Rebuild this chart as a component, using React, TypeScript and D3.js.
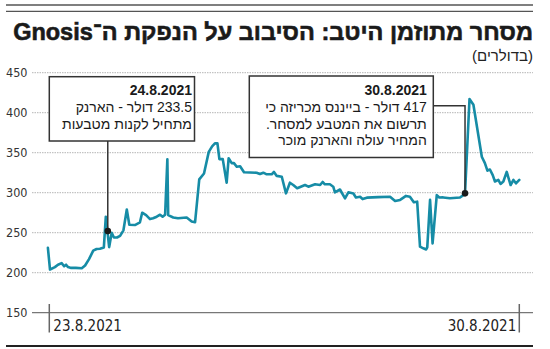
import React from "react";
import * as d3 from "d3";

// hours since 23.8.2021 00:00
const hours = [
  -0.5, 0.25, 2.0, 3.1, 4.4, 5.3, 6.0, 6.7, 7.8, 9.5, 11.6, 12.8, 14.2, 15.7, 16.9, 18.1, 19.5, 20.2, 21.4,
  22.3, 23.1, 24.2, 25.3, 26.5, 27.7, 28.6, 30.6, 32.4, 33.2, 34.6, 36.0, 37.1, 38.4, 39.6, 40.5, 41.4,
  42.2, 42.5, 44.3, 46.0, 49.1, 50.9, 52.1, 53.6, 55.3, 57.0, 58.2, 59.2, 60.1, 60.8, 62.0, 63.4, 64.1,
  65.2, 66.0, 67.0, 68.2, 69.6, 74.1, 75.3, 76.5, 77.7, 79.5, 80.3, 81.3, 83.1, 84.6, 86.0, 87.2, 88.6,
  91.4, 92.6, 95.0, 96.8, 97.7, 98.5, 100.3, 101.5, 102.1, 103.9, 105.7, 106.9, 108.7, 109.6, 111.1,
  112.0, 113.5, 117.5, 121.8, 123.6, 125.4, 127.5, 128.9, 130.3, 131.5, 132.5, 133.7, 134.7, 135.1,
  136.1, 137.0, 138.5, 139.4, 140.8, 143.2, 146.8, 148.0, 148.6, 150.2, 151.6, 154.6, 155.7, 156.6,
  157.5, 158.5, 159.3, 160.5, 161.3, 162.3, 163.5, 164.9, 165.9, 166.8, 168.0,
];
const prices = [
  231, 204, 207, 210, 212, 208, 210, 207, 206, 206, 205.5, 209, 217, 227.5, 229.6, 230, 231.6, 270, 232,
  250, 244, 244, 246, 253, 279, 260, 259.6, 263, 275, 272, 267, 268, 270, 272.5, 270, 272.5,
  341.7, 272, 269, 268, 269, 264, 263, 316.7, 324, 351, 358, 361.7, 361.7, 342, 342, 312.5, 343,
  337, 337, 332.5, 333, 325.5, 325, 323.4, 325, 323, 323, 326, 321, 320, 299.2, 312.5, 309.6, 305.5,
  309.6, 307.5, 310.5, 309.6, 313.4, 310.5, 310.5, 307.5, 300.5, 304, 293, 300.5, 299, 294, 295,
  292, 293.8, 294.5, 295, 289.6, 291, 296, 295, 288, 288.8, 232.5, 230.5, 229, 231.6,
  291, 236.7, 297, 294, 294.1, 293, 294, 297, 299.2, 417, 410, 345, 337, 327.5,
  329, 322, 314, 316, 311, 314, 326, 309.6, 316, 311.7, 316,
];

const yTicks = [150, 200, 250, 300, 350, 400, 450];
const xTickHours = [0, 168];
const xTickLabels = ["23.8.2021", "30.8.2021"];

const titleText = "מסחר מתוזמן היטב: הסיבוב על הנפקת ה־Gnosis";
const subtitleText = "(בדולרים)";

const note1Hour = 20.9;
const note1Value = 252;
const note1Lines = ["24.8.2021", "233.5 דולר - הארנק", "מתחיל לקנות מטבעות"];
const note2Hour = 148.6;
const note2Value = 299.2;
const note2Lines = ["30.8.2021", "417 דולר - בייננס מכריזה כי", "תרשום את המטבע למסחר.", "המחיר עולה והארנק מוכר"];

const W = 550;
const H = 349;
const LINE = "#168ca6";
const narrow = "'Liberation Sans Narrow', 'DejaVu Sans Condensed', 'Liberation Sans', sans-serif";
const sans = "'Liberation Sans', 'DejaVu Sans', Arial, sans-serif";

export default function App() {
  const x = d3.scaleLinear().domain([0, 168]).range([49.3, 519.3]);
  const y = d3.scaleLinear().domain([150, 450]).range([312.7, 72.7]);
  const pts = hours.map((h, i) => [h, prices[i]] as [number, number]);
  const line = d3
    .line<[number, number]>()
    .x((d) => x(d[0]))
    .y((d) => y(d[1]))(pts) as string;

  const gridL = 32;
  const gridR = 533;

  const n1x = x(note1Hour);
  const n1y = y(note1Value);
  const n2x = x(note2Hour);
  const n2y = y(note2Value);

  const box1 = { l: 49.3, r: 194.5, t: 76.7, b: 141 };
  const box2 = { l: 249.3, r: 433.3, t: 76, b: 157.5 };

  return (
    <svg
      width={W}
      height={H}
      style={{ position: "absolute", left: 0, top: 0, background: "#fff" }}
    >
      <rect x={0} y={0} width={W} height={H} fill="#fff" />
      {/* top rules */}
      <line x1={6} x2={533} y1={5} y2={5} stroke="#555" strokeWidth={1.3} />
      <line x1={6} x2={533} y1={11.3} y2={11.3} stroke="#555" strokeWidth={1.3} />

      {/* title */}
      <text
        x={533}
        y={40}
        direction="rtl"
        textAnchor="start"
        fontFamily={sans}
        fontWeight={900}
        fontSize={23.5}
        fill="#1a1a1a"
        stroke="#1a1a1a"
        strokeWidth={0.6}
      >
        {titleText}
      </text>
      <text
        x={533}
        y={61}
        direction="rtl"
        textAnchor="start"
        fontFamily={sans}
        fontSize={15}
        fill="#222"
      >
        {subtitleText}
      </text>

      {/* grid */}
      {yTicks
        .filter((t) => t !== 150)
        .map((t) => (
          <line
            key={t}
            x1={gridL}
            x2={gridR}
            y1={y(t)}
            y2={y(t)}
            stroke="#b5b5b5"
            strokeWidth={1}
            strokeDasharray="1.5 1"
          />
        ))}
      {yTicks.map((t) => (
        <text
          key={"l" + t}
          x={6}
          y={y(t)}
          dy="0.35em"
          fontFamily={narrow}
          fontSize={12.5}
          fill="#333"
        >
          {t}
        </text>
      ))}

      {/* x axis */}
      <line x1={gridL} x2={gridR} y1={y(150)} y2={y(150)} stroke="#777" strokeWidth={1.3} />
      {xTickHours.map((h, i) => (
        <g key={"x" + i}>
          <line x1={x(h)} x2={x(h)} y1={304} y2={332.5} stroke="#666" strokeWidth={1.5} />
          <text
            x={i === 0 ? x(h) + 4 : x(h) - 3}
            y={331}
            textAnchor={i === 0 ? "start" : "end"}
            fontFamily={narrow}
            fontSize={15}
            fill="#222"
          >
            {xTickLabels[i]}
          </text>
        </g>
      ))}

      {/* price line */}
      <path d={line} fill="none" stroke={LINE} strokeWidth={2.6} strokeLinejoin="round" strokeLinecap="round" />

      {/* annotation 1 */}
      <line x1={n1x} x2={n1x} y1={box1.b} y2={n1y} stroke="#333" strokeWidth={1.5} />
      <rect
        x={box1.l}
        y={box1.t}
        width={box1.r - box1.l}
        height={box1.b - box1.t}
        fill="#fff"
        stroke="#333"
        strokeWidth={1.5}
      />
      {note1Lines.map((s, i) => (
        <text
          key={"n1" + i}
          x={box1.r - 2.5}
          y={95 + i * 17}
          direction="rtl"
          textAnchor="start"
          fontFamily={sans}
          fontWeight={i === 0 ? 700 : 400}
          fontSize={14}
          fill="#1a1a1a"
        >
          {s}
        </text>
      ))}
      <circle cx={n1x} cy={n1y} r={3.3} fill="#1a1a1a" />

      {/* annotation 2 */}
      <polyline
        points={`${box2.r},105.7 ${n2x},105.7 ${n2x},${n2y}`}
        fill="none"
        stroke="#333"
        strokeWidth={1.5}
      />
      <rect
        x={box2.l}
        y={box2.t}
        width={box2.r - box2.l}
        height={box2.b - box2.t}
        fill="#fff"
        stroke="#333"
        strokeWidth={1.5}
      />
      {note2Lines.map((s, i) => (
        <text
          key={"n2" + i}
          x={box2.r - 6.5}
          y={95 + i * 16.8}
          direction="rtl"
          textAnchor="start"
          fontFamily={sans}
          fontWeight={i === 0 ? 700 : 400}
          fontSize={14}
          fill="#1a1a1a"
        >
          {s}
        </text>
      ))}
      <circle cx={n2x} cy={n2y} r={3.3} fill="#1a1a1a" />

      {/* bottom rule */}
      <line x1={6} x2={533} y1={346} y2={346} stroke="#222" strokeWidth={2} />
    </svg>
  );
}
